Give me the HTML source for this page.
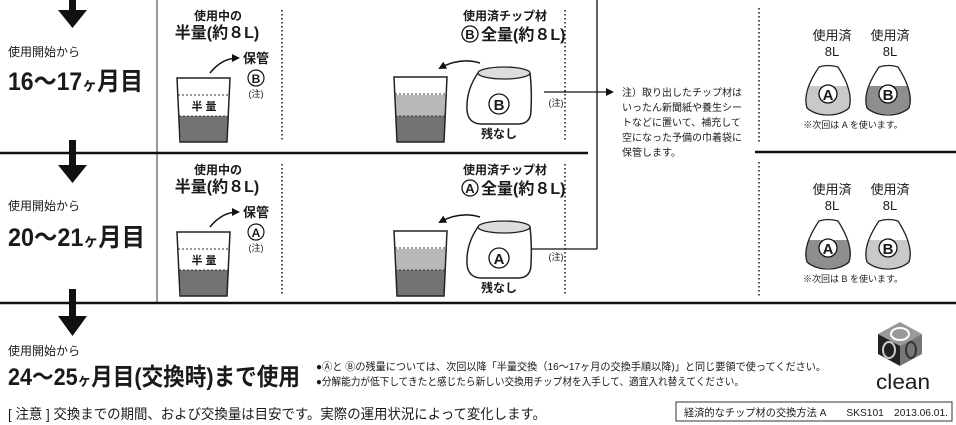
<!DOCTYPE html>
<html><head><meta charset="utf-8"><style>
html,body{margin:0;padding:0;background:#fff}
svg{display:block}
text{font-family:"Liberation Sans","Noto Sans CJK JP",sans-serif;fill:#1a1a1a}
.b{font-weight:bold}
</style></head><body>
<svg width="956" height="425" viewBox="0 0 956 425" xmlns="http://www.w3.org/2000/svg">
<defs>
<marker id="ah" markerWidth="8" markerHeight="8" refX="6" refY="4" orient="auto" markerUnits="userSpaceOnUse"><path d="M0,0 L8,4 L0,8 Z" fill="#111"/></marker>
</defs>

<line x1="157" y1="0" x2="157" y2="303" stroke="#333" stroke-width="1"/>
<line x1="0" y1="153" x2="588" y2="153" stroke="#111" stroke-width="2.5"/>
<line x1="755" y1="152" x2="956" y2="152" stroke="#111" stroke-width="2.5"/>
<line x1="0" y1="303" x2="956" y2="303" stroke="#111" stroke-width="2.5"/>
<line x1="597" y1="0" x2="597" y2="249" stroke="#111" stroke-width="1.3"/>
<polyline points="529,249 597,249" fill="none" stroke="#111" stroke-width="1.3"/>
<line x1="544" y1="92" x2="612" y2="92" stroke="#111" stroke-width="1.3" marker-end="url(#ah)"/>

<g fill="#111">
<rect x="69" y="0" width="7" height="10"/><path d="M58,10 L87,10 L72.5,28 Z"/>
<rect x="69" y="140" width="7" height="25"/><path d="M58,165 L87,165 L72.5,183 Z"/>
<rect x="69" y="289" width="7" height="28"/><path d="M58,316 L87,316 L72.5,336 Z"/>
</g>

<g font-size="10">
<text x="622" y="96">注）取り出したチップ材は</text>
<text x="622" y="111">いったん新聞紙や養生シー</text>
<text x="622" y="126">トなどに置いて、補充して</text>
<text x="622" y="141">空になった予備の巾着袋に</text>
<text x="622" y="156">保管します。</text>
</g>

<g id="row1">
<text x="8" y="56" font-size="12">使用開始から</text>
<text x="8" y="90" font-size="25" class="b" textLength="135" lengthAdjust="spacingAndGlyphs">16〜17<tspan font-size="16">ヶ</tspan>月目</text>
<text x="218" y="20" font-size="12" text-anchor="middle" class="b">使用中の</text>
<text x="217" y="38" font-size="16" text-anchor="middle" class="b">半量(約８L)</text>
<text x="505" y="20" font-size="12" text-anchor="middle" class="b">使用済チップ材</text>
<text x="481" y="40" font-size="16" class="b">全量(約８L)</text>
<line x1="282" y1="10" x2="282" y2="142" stroke="#111" stroke-width="1.5" stroke-dasharray="1.5,2.5"/>
<line x1="565" y1="10" x2="565" y2="142" stroke="#111" stroke-width="1.5" stroke-dasharray="1.5,2.5"/>
<line x1="759" y1="8" x2="759" y2="142" stroke="#111" stroke-width="1.5" stroke-dasharray="1.5,2.5"/>
<path d="M179,116 L229,116 L227,142 L181,142 Z" fill="#737373"/>
<path d="M177,78 L230,78 L227,142 L180,142 Z" fill="none" stroke="#222" stroke-width="1.5"/>
<line x1="178" y1="95" x2="229" y2="95" stroke="#333" stroke-dasharray="2,2"/>
<line x1="179" y1="116" x2="229" y2="116" stroke="#333" stroke-dasharray="2,2"/>
<text x="204" y="110" font-size="11" text-anchor="middle" class="b">半 量</text>
<path d="M210,73 Q222,58 238,58" fill="none" stroke="#111" stroke-width="1.5" marker-end="url(#ah)"/>
<text x="256" y="63" font-size="13" text-anchor="middle" class="b">保管</text>
<text x="256" y="97" font-size="9" text-anchor="middle">(注)</text>
<path d="M395,95 L446,95 L444,142 L397,142 Z" fill="#b8b8b8"/>
<path d="M396,116 L445,116 L444,142 L397,142 Z" fill="#737373"/>
<path d="M394,77 L447,77 L444,142 L397,142 Z" fill="none" stroke="#222" stroke-width="1.5"/>
<line x1="395" y1="94" x2="446" y2="94" stroke="#333" stroke-dasharray="2,2"/>
<line x1="395" y1="116" x2="446" y2="116" stroke="#333" stroke-dasharray="2,2"/>
<path d="M480,63 Q460,57 440,68" fill="none" stroke="#111" stroke-width="1.5" marker-end="url(#ah)"/>
<path d="M478,73 Q466,90 467,110 Q468,124 482,124 L518,124 Q531,124 531,110 Q532,90 530,73" fill="#fff" stroke="#222" stroke-width="1.5"/>
<ellipse cx="504" cy="73" rx="26" ry="6" fill="#ddd" stroke="#222" stroke-width="1.3"/>
<text x="499" y="138" font-size="12" text-anchor="middle" class="b">残なし</text>
<text x="556" y="106" font-size="9" text-anchor="middle">(注)</text>
<text x="832" y="40" font-size="13" text-anchor="middle">使用済</text>
<text x="890" y="40" font-size="13" text-anchor="middle">使用済</text>
<text x="832" y="56" font-size="13" text-anchor="middle">8L</text>
<text x="890" y="56" font-size="13" text-anchor="middle">8L</text>
<text x="853" y="128" font-size="9" text-anchor="middle">※次回は A を使います。</text>
</g>

<g>
<circle cx="256" cy="78" r="8" fill="#fff" stroke="#111" stroke-width="1.2"/><text x="256" y="83" font-size="12" text-anchor="middle" class="b">B</text>
<circle cx="470" cy="34" r="8" fill="#fff" stroke="#111" stroke-width="1.3"/><text x="470" y="39" font-size="13" text-anchor="middle" class="b">B</text>
<circle cx="499" cy="104" r="10" fill="#fff" stroke="#111" stroke-width="1.3"/><text x="499" y="110" font-size="15" text-anchor="middle" class="b">B</text>
<path d="M809,86 L848,86 Q854,101 848,110 Q841,114 828,114 Q815,114 808,110 Q802,101 809,86 Z" fill="#c9c9c9"/>
<path d="M819,67 Q828,64 838,67 Q854,92 849,108 Q841,115 828,115 Q815,115 807,108 Q802,92 819,67 Z" fill="none" stroke="#222" stroke-width="1.3"/>
<circle cx="828" cy="94" r="9" fill="#fff" stroke="#111" stroke-width="1.3"/><text x="828" y="100" font-size="15" text-anchor="middle" class="b">A</text>
<path d="M869,86 L908,86 Q914,101 908,110 Q901,114 888,114 Q875,114 868,110 Q862,101 869,86 Z" fill="#8e8e8e"/>
<path d="M879,67 Q888,64 898,67 Q914,92 909,108 Q901,115 888,115 Q875,115 867,108 Q862,92 879,67 Z" fill="none" stroke="#222" stroke-width="1.3"/>
<circle cx="888" cy="94" r="9" fill="#fff" stroke="#111" stroke-width="1.3"/><text x="888" y="100" font-size="15" text-anchor="middle" class="b">B</text>
</g>

<g transform="translate(0,154)">
<text x="8" y="56" font-size="12">使用開始から</text>
<text x="8" y="92" font-size="25" class="b" textLength="137" lengthAdjust="spacingAndGlyphs">20〜21<tspan font-size="16">ヶ</tspan>月目</text>
<text x="218" y="20" font-size="12" text-anchor="middle" class="b">使用中の</text>
<text x="217" y="38" font-size="16" text-anchor="middle" class="b">半量(約８L)</text>
<text x="505" y="20" font-size="12" text-anchor="middle" class="b">使用済チップ材</text>
<text x="481" y="40" font-size="16" class="b">全量(約８L)</text>
<line x1="282" y1="10" x2="282" y2="142" stroke="#111" stroke-width="1.5" stroke-dasharray="1.5,2.5"/>
<line x1="565" y1="10" x2="565" y2="142" stroke="#111" stroke-width="1.5" stroke-dasharray="1.5,2.5"/>
<line x1="759" y1="8" x2="759" y2="142" stroke="#111" stroke-width="1.5" stroke-dasharray="1.5,2.5"/>
<path d="M179,116 L229,116 L227,142 L181,142 Z" fill="#737373"/>
<path d="M177,78 L230,78 L227,142 L180,142 Z" fill="none" stroke="#222" stroke-width="1.5"/>
<line x1="178" y1="95" x2="229" y2="95" stroke="#333" stroke-dasharray="2,2"/>
<line x1="179" y1="116" x2="229" y2="116" stroke="#333" stroke-dasharray="2,2"/>
<text x="204" y="110" font-size="11" text-anchor="middle" class="b">半 量</text>
<path d="M210,73 Q222,58 238,58" fill="none" stroke="#111" stroke-width="1.5" marker-end="url(#ah)"/>
<text x="256" y="63" font-size="13" text-anchor="middle" class="b">保管</text>
<text x="256" y="97" font-size="9" text-anchor="middle">(注)</text>
<path d="M395,95 L446,95 L444,142 L397,142 Z" fill="#b8b8b8"/>
<path d="M396,116 L445,116 L444,142 L397,142 Z" fill="#737373"/>
<path d="M394,77 L447,77 L444,142 L397,142 Z" fill="none" stroke="#222" stroke-width="1.5"/>
<line x1="395" y1="94" x2="446" y2="94" stroke="#333" stroke-dasharray="2,2"/>
<line x1="395" y1="116" x2="446" y2="116" stroke="#333" stroke-dasharray="2,2"/>
<path d="M480,63 Q460,57 440,68" fill="none" stroke="#111" stroke-width="1.5" marker-end="url(#ah)"/>
<path d="M478,73 Q466,90 467,110 Q468,124 482,124 L518,124 Q531,124 531,110 Q532,90 530,73" fill="#fff" stroke="#222" stroke-width="1.5"/>
<ellipse cx="504" cy="73" rx="26" ry="6" fill="#ddd" stroke="#222" stroke-width="1.3"/>
<text x="499" y="138" font-size="12" text-anchor="middle" class="b">残なし</text>
<text x="556" y="106" font-size="9" text-anchor="middle">(注)</text>
<text x="832" y="40" font-size="13" text-anchor="middle">使用済</text>
<text x="890" y="40" font-size="13" text-anchor="middle">使用済</text>
<text x="832" y="56" font-size="13" text-anchor="middle">8L</text>
<text x="890" y="56" font-size="13" text-anchor="middle">8L</text>
<text x="853" y="128" font-size="9" text-anchor="middle">※次回は B を使います。</text>
<circle cx="256" cy="78" r="8" fill="#fff" stroke="#111" stroke-width="1.2"/><text x="256" y="83" font-size="12" text-anchor="middle" class="b">A</text>
<circle cx="470" cy="34" r="8" fill="#fff" stroke="#111" stroke-width="1.3"/><text x="470" y="39" font-size="13" text-anchor="middle" class="b">A</text>
<circle cx="499" cy="104" r="10" fill="#fff" stroke="#111" stroke-width="1.3"/><text x="499" y="110" font-size="15" text-anchor="middle" class="b">A</text>
<path d="M809,86 L848,86 Q854,101 848,110 Q841,114 828,114 Q815,114 808,110 Q802,101 809,86 Z" fill="#8e8e8e"/>
<path d="M819,67 Q828,64 838,67 Q854,92 849,108 Q841,115 828,115 Q815,115 807,108 Q802,92 819,67 Z" fill="none" stroke="#222" stroke-width="1.3"/>
<circle cx="828" cy="94" r="9" fill="#fff" stroke="#111" stroke-width="1.3"/><text x="828" y="100" font-size="15" text-anchor="middle" class="b">A</text>
<path d="M869,86 L908,86 Q914,101 908,110 Q901,114 888,114 Q875,114 868,110 Q862,101 869,86 Z" fill="#c9c9c9"/>
<path d="M879,67 Q888,64 898,67 Q914,92 909,108 Q901,115 888,115 Q875,115 867,108 Q862,92 879,67 Z" fill="none" stroke="#222" stroke-width="1.3"/>
<circle cx="888" cy="94" r="9" fill="#fff" stroke="#111" stroke-width="1.3"/><text x="888" y="100" font-size="15" text-anchor="middle" class="b">B</text>
</g>

<text x="8" y="355" font-size="12">使用開始から</text>
<text x="8" y="385" font-size="24" class="b" textLength="292" lengthAdjust="spacingAndGlyphs">24〜25<tspan font-size="15">ヶ</tspan>月目(交換時)まで使用</text>
<text x="316" y="370" font-size="10.5" textLength="510" lengthAdjust="spacingAndGlyphs">●Ⓐと Ⓑの残量については、次回以降「半量交換（16～17ヶ月の交換手順以降)」と同じ要領で使ってください。</text>
<text x="316" y="385" font-size="10.5" textLength="428" lengthAdjust="spacingAndGlyphs">●分解能力が低下してきたと感じたら新しい交換用チップ材を入手して、適宜入れ替えてください。</text>
<text x="8" y="419" font-size="14" textLength="538" lengthAdjust="spacingAndGlyphs">[ 注意 ] 交換までの期間、および交換量は目安です。実際の運用状況によって変化します。</text>
<rect x="676" y="402" width="276" height="19" fill="#fff" stroke="#333" stroke-width="1"/>
<text x="684" y="416" font-size="10.5" textLength="264" lengthAdjust="spacingAndGlyphs">経済的なチップ材の交換方法 A　　SKS101　2013.06.01.</text>

<g>
<path d="M900,322 L922,334 L900,346 L878,334 Z" fill="#999"/>
<path d="M878,334 L900,346 L900,366 L878,354 Z" fill="#222"/>
<path d="M900,346 L922,334 L922,354 L900,366 Z" fill="#777"/>
<ellipse cx="900" cy="334" rx="9" ry="6" fill="none" stroke="#fff" stroke-width="2"/>
<ellipse cx="889" cy="350" rx="6" ry="8" fill="none" stroke="#ccc" stroke-width="2"/>
<ellipse cx="911" cy="350" rx="5" ry="8" fill="none" stroke="#333" stroke-width="2"/>
<text x="903" y="389" font-size="21" text-anchor="middle" fill="#222" textLength="54" lengthAdjust="spacingAndGlyphs">clean</text>
</g>
</svg>
</body></html>
